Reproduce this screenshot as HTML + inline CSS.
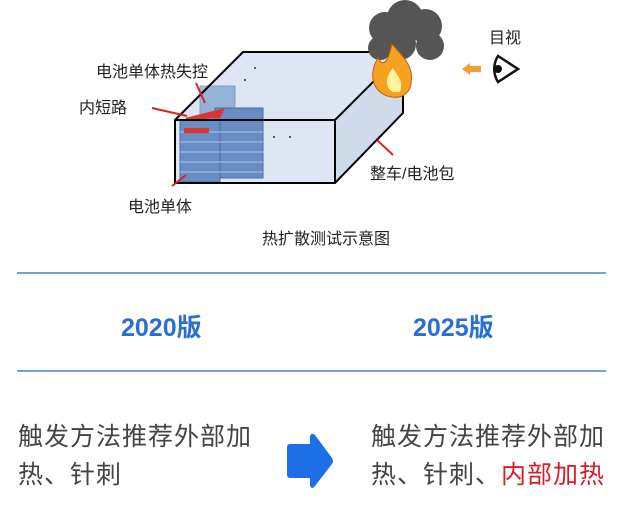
<!DOCTYPE html>
<html><head><meta charset="utf-8"><style>
body{margin:0;width:630px;height:527px;background:#fff;position:relative;overflow:hidden;font-family:"Liberation Sans","Noto Sans CJK SC",sans-serif;}
.t{position:absolute;white-space:nowrap;color:#222;font-size:16px;}
.hl{position:absolute;left:17px;width:589px;height:2px;background:#6ea3d4;}
.h{position:absolute;font-size:25px;font-weight:bold;color:#2a6fd0;}
.b{position:absolute;font-size:25px;color:#444;line-height:38px;letter-spacing:1px;white-space:nowrap;}
</style></head><body>
<svg width="630" height="260" style="position:absolute;left:0;top:0">
<polygon points="175,120 243,52 403,52 403,113 335,183 175,183" fill="#dde6f2"/>
<polygon points="335,120 403,52 403,113 335,183" fill="#cfdbeb"/>
<g fill="#5b84c0" stroke="#3b5f99" stroke-width="1" opacity="0.9">
<rect x="200" y="86" width="35" height="85" opacity="0.6"/>
<rect x="215" y="108" width="48" height="70"/>
<rect x="180" y="120" width="40" height="62"/>
</g>
<g stroke="#aac4e6" stroke-width="1">
<line x1="180" y1="132" x2="263" y2="132"/><line x1="180" y1="142" x2="263" y2="142"/><line x1="180" y1="152" x2="263" y2="152"/><line x1="180" y1="162" x2="263" y2="162"/><line x1="180" y1="172" x2="263" y2="172"/>
</g>
<polygon points="185,118 225,108 220,118 188,120" fill="#d33"/>
<rect x="184" y="128" width="25" height="5" fill="#d33"/>
<g fill="none" stroke="#000" stroke-width="2">
<polygon points="175,120 243,52 403,52 403,113 335,183 175,183"/>
<line x1="175" y1="120" x2="335" y2="120"/><line x1="335" y1="120" x2="403" y2="52"/><line x1="335" y1="120" x2="335" y2="183"/>
</g>
<g fill="#555"><circle cx="385" cy="28" r="16"/><circle cx="405" cy="18" r="18"/><circle cx="425" cy="26" r="17"/><circle cx="430" cy="46" r="14"/><circle cx="400" cy="44" r="16"/><circle cx="380" cy="48" r="12"/></g>
<path d="M392 97 C372 94 368 74 378 58 C383 68 388 62 392 44 C404 58 416 68 410 88 C406 96 400 98 392 97Z" fill="#f8a020" stroke="#c06010"/>
<path d="M393 92 C384 87 386 76 393 68 C397 76 404 80 400 92Z" fill="#fff3a0"/>
<polygon points="462,69 470,63 470,66 481,66 481,72 470,72 470,75" fill="#f0a030"/>
<path d="M498 56 L518 69 L498 82 C493 74 493 64 498 56Z" fill="none" stroke="#111" stroke-width="2.5"/>
<circle cx="498" cy="69" r="4" fill="#111"/>
<g stroke="#d22" stroke-width="2" fill="#d22">
<line x1="196" y1="83" x2="205" y2="103"/><line x1="152" y1="108" x2="187" y2="116"/><line x1="172" y1="186" x2="186" y2="175"/><line x1="393" y1="155" x2="377" y2="140"/>
</g>
<circle cx="255" cy="68" r="1" fill="#333"/><circle cx="245" cy="80" r="1" fill="#333"/><circle cx="274" cy="137" r="1" fill="#333"/><circle cx="290" cy="137" r="1" fill="#333"/>
</svg>
<div class="t" style="left:96px;top:58px">电池单体热失控</div>
<div class="t" style="left:79px;top:94px">内短路</div>
<div class="t" style="left:128px;top:193px">电池单体</div>
<div class="t" style="left:370px;top:160px">整车/电池包</div>
<div class="t" style="left:489px;top:24px">目视</div>
<div class="t" style="left:262px;top:225px">热扩散测试示意图</div>
<div class="hl" style="top:272px"></div>
<div class="hl" style="top:370px"></div>
<div class="h" style="left:121px;top:308px">2020版</div>
<div class="h" style="left:413px;top:308px">2025版</div>
<div class="b" style="left:18px;top:418px">触发方法推荐外部加<br>热、针刺</div>
<svg width="50" height="58" style="position:absolute;left:286px;top:432px"><path d="M4 12 H24 V4 Q26 0 29 3 L46 26 Q48 29 46 32 L29 54 Q26 58 24 54 V46 H4 Q1 46 1 42 V16 Q1 12 4 12Z" fill="#1e6ee8"/></svg>
<div class="b" style="left:371px;top:418px">触发方法推荐外部加<br>热、针刺、<span style="color:#d4202a">内部加热</span></div>
</body></html>
